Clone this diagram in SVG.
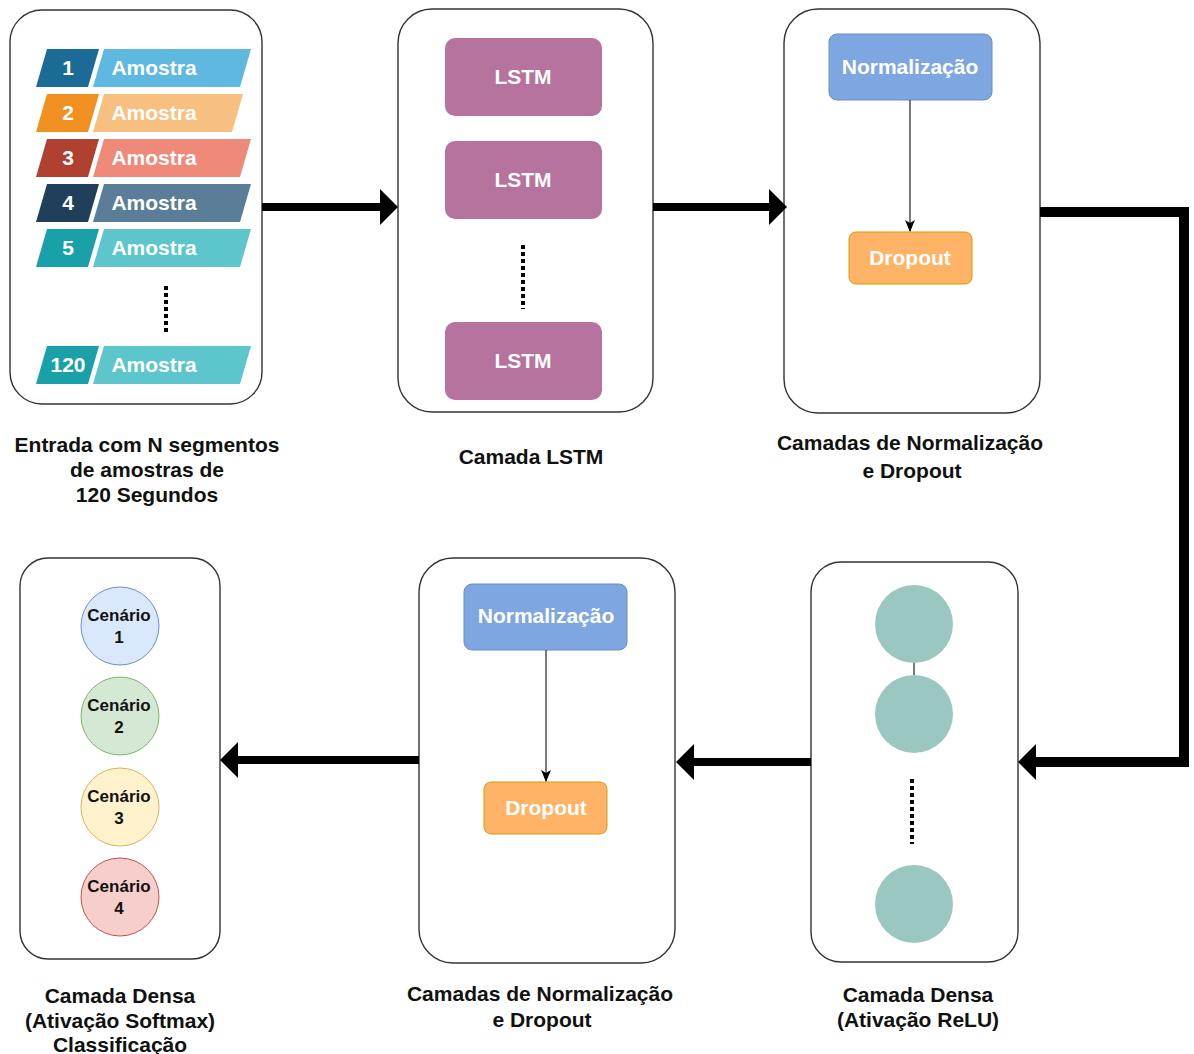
<svg xmlns="http://www.w3.org/2000/svg" width="1194" height="1054" viewBox="0 0 1194 1054">
<style>
.box{fill:#fff;stroke:#333;stroke-width:1.4}
.t{font-family:"Liberation Sans",Arial,sans-serif;font-weight:bold;text-anchor:middle}
.w{fill:#fff;font-size:21px}
.lab{fill:#111;font-size:21px}
.cen{fill:#111;font-size:17px}
.thick{fill:none;stroke:#000;stroke-width:8;stroke-linejoin:miter}
.thin{fill:none;stroke:#222;stroke-width:1.2}
.dots{fill:none;stroke:#000;stroke-width:4;stroke-dasharray:4 3}
.lstm{fill:#b5739d}
.norm{fill:#7ea6e0;stroke:#6c8ebf;stroke-width:1}
.drop{fill:#ffb366;stroke:#d79b00;stroke-width:1}
.neur{fill:#9ac7bf}
</style>
<defs>
<marker id="big" viewBox="0 0 18 36" markerWidth="18" markerHeight="36" markerUnits="userSpaceOnUse" refX="10" refY="18" orient="auto">
<path d="M0,0 L18,18 L0,36 Z" fill="#000"/>
</marker>
<marker id="small" viewBox="0 0 12 10" markerWidth="12" markerHeight="10" markerUnits="userSpaceOnUse" refX="11" refY="5" orient="auto">
<path d="M0,0 L12,5 L0,10 L3,5 Z" fill="#000"/>
</marker>
</defs>

<g id="input">
<rect class="box" x="10" y="10" width="252" height="394" rx="32"/>
<g id="row1">
<polygon points="47,49 99,49 88,87 36,87" fill="#1a6b96"/>
<polygon points="104,49 251,49 240,87 93,87" fill="#5fb8e0"/>
<text class="t w" x="68" y="75">1</text><text class="t w" x="154" y="75">Amostra</text>
</g>
<g id="row2">
<polygon points="47,94 99,94 88,132 36,132" fill="#ef9020"/>
<polygon points="104,94 243,94 232,132 93,132" fill="#f8c080"/>
<text class="t w" x="68" y="120">2</text><text class="t w" x="154" y="120">Amostra</text>
</g>
<g id="row3">
<polygon points="47,139 99,139 88,177 36,177" fill="#b04030"/>
<polygon points="104,139 251,139 240,177 93,177" fill="#ef8a7a"/>
<text class="t w" x="68" y="165">3</text><text class="t w" x="154" y="165">Amostra</text>
</g>
<g id="row4">
<polygon points="47,184 99,184 88,222 36,222" fill="#1f3f5a"/>
<polygon points="104,184 251,184 240,222 93,222" fill="#5a7e98"/>
<text class="t w" x="68" y="210">4</text><text class="t w" x="154" y="210">Amostra</text>
</g>
<g id="row5">
<polygon points="47,229 99,229 88,267 36,267" fill="#1aa0a8"/>
<polygon points="104,229 251,229 240,267 93,267" fill="#5cc6cc"/>
<text class="t w" x="68" y="255">5</text><text class="t w" x="154" y="255">Amostra</text>
</g>
<line class="dots" x1="166" y1="286" x2="166" y2="332"/>
<g id="row120">
<polygon points="47,346 99,346 88,384 36,384" fill="#1aa0a8"/>
<polygon points="104,346 251,346 240,384 93,384" fill="#5cc6cc"/>
<text class="t w" x="68" y="372">120</text><text class="t w" x="154" y="372">Amostra</text>
</g>
<text class="t lab"><tspan x="147" y="452">Entrada com N segmentos</tspan><tspan x="147" y="477">de amostras de</tspan><tspan x="147" y="502">120 Segundos</tspan></text>
</g>

<g id="lstm">
<rect class="box" x="398" y="9" width="255" height="403" rx="34"/>
<rect class="lstm" x="445" y="38" width="157" height="78" rx="10"/>
<text class="t w" x="523" y="84">LSTM</text>
<rect class="lstm" x="445" y="141" width="157" height="78" rx="10"/>
<text class="t w" x="523" y="187">LSTM</text>
<line class="dots" x1="523" y1="245" x2="523" y2="309"/>
<rect class="lstm" x="445" y="322" width="157" height="78" rx="10"/>
<text class="t w" x="523" y="368">LSTM</text>
<text class="t lab" x="531" y="464">Camada LSTM</text>
</g>

<g id="normdrop1">
<rect class="box" x="784" y="9" width="256" height="404" rx="34"/>
<rect class="norm" x="829" y="34" width="163" height="66" rx="8"/>
<text class="t w" x="910" y="74">Normalização</text>
<rect class="drop" x="849" y="232" width="123" height="52" rx="7"/>
<text class="t w" x="910" y="265">Dropout</text>
<line class="thin" x1="910" y1="100" x2="910" y2="231" marker-end="url(#small)"/>
<text class="t lab"><tspan x="910" y="450">Camadas de Normalização</tspan><tspan x="912" y="478">e Dropout</tspan></text>
</g>

<g id="dense-relu">
<rect class="box" x="811" y="562" width="207" height="400" rx="30"/>
<line class="thin" x1="914" y1="662" x2="914" y2="676"/>
<circle class="neur" cx="914" cy="624" r="39"/>
<circle class="neur" cx="914" cy="714" r="39"/>
<line class="dots" x1="912" y1="779" x2="912" y2="844"/>
<circle class="neur" cx="914" cy="904" r="39"/>
<text class="t lab"><tspan x="918" y="1002">Camada Densa</tspan><tspan x="918" y="1027">(Ativação ReLU)</tspan></text>
</g>

<g id="normdrop2">
<rect class="box" x="419" y="558" width="256" height="405" rx="34"/>
<rect class="norm" x="464" y="584" width="163" height="66" rx="8"/>
<text class="t w" x="546" y="623">Normalização</text>
<rect class="drop" x="484" y="782" width="123" height="52" rx="7"/>
<text class="t w" x="546" y="815">Dropout</text>
<line class="thin" x1="546" y1="650" x2="546" y2="781" marker-end="url(#small)"/>
<text class="t lab"><tspan x="540" y="1001">Camadas de Normalização</tspan><tspan x="542" y="1027">e Dropout</tspan></text>
</g>

<g id="softmax">
<rect class="box" x="20" y="558" width="200" height="401" rx="28"/>
<circle cx="120" cy="626" r="39" fill="#dae8fc" stroke="#6c8ebf" stroke-width="1"/>
<text class="t cen"><tspan x="119" y="621">Cenário</tspan><tspan x="119" y="643">1</tspan></text>
<circle cx="120" cy="716" r="39" fill="#d5e8d4" stroke="#82b366" stroke-width="1"/>
<text class="t cen"><tspan x="119" y="711">Cenário</tspan><tspan x="119" y="733">2</tspan></text>
<circle cx="120" cy="807" r="39" fill="#fff2cc" stroke="#d6b656" stroke-width="1"/>
<text class="t cen"><tspan x="119" y="802">Cenário</tspan><tspan x="119" y="824">3</tspan></text>
<circle cx="120" cy="897" r="39" fill="#f8cecc" stroke="#b85450" stroke-width="1"/>
<text class="t cen"><tspan x="119" y="892">Cenário</tspan><tspan x="119" y="914">4</tspan></text>
<text class="t lab"><tspan x="120" y="1003">Camada Densa</tspan><tspan x="120" y="1028">(Ativação Softmax)</tspan><tspan x="120" y="1052">Classificação</tspan></text>
</g>

<g id="connectors">
<path class="thick" d="M262,207 H390" marker-end="url(#big)"/>
<path class="thick" d="M653,207 H779" marker-end="url(#big)"/>
<path class="thick" style="stroke-width:10" d="M1040,212 H1184 V762 H1026" marker-end="url(#big)"/>
<path class="thick" d="M811,762 H684" marker-end="url(#big)"/>
<path class="thick" d="M419,760 H228" marker-end="url(#big)"/>
</g>
</svg>
